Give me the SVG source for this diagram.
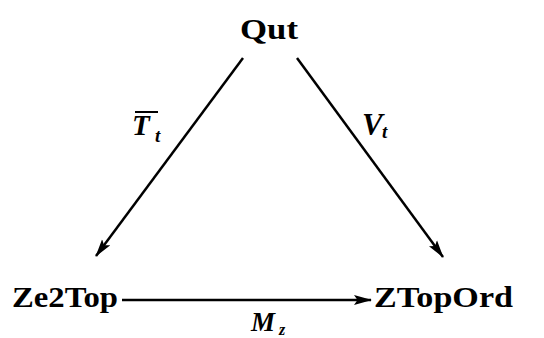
<svg xmlns="http://www.w3.org/2000/svg" width="544" height="338" viewBox="0 0 544 338">
<defs>
<style>
.node{font-family:"Liberation Serif","DejaVu Serif",serif;font-weight:bold;font-size:30px;fill:#000}
.lbl{font-family:"Liberation Serif","DejaVu Serif",serif;font-style:italic;font-weight:bold;fill:#000}
.edge{stroke:#000;stroke-width:2.5;fill:none}
</style>
<marker id="ah" viewBox="0 0 18 11" refX="17" refY="5.5" markerWidth="18" markerHeight="11" markerUnits="userSpaceOnUse" orient="auto">
<path d="M0,0.5 L18,5.5 L0,10.5 L3.5,5.5 Z" fill="#000"/>
</marker>
</defs>
<rect width="544" height="338" fill="#fff"/>
<g id="Qut"><text class="node" x="269" y="39" text-anchor="middle" textLength="58" lengthAdjust="spacingAndGlyphs">Qut</text></g>
<g id="Ze2Top"><text class="node" x="12" y="307" textLength="106" lengthAdjust="spacingAndGlyphs">Ze2Top</text></g>
<g id="ZTopOrd"><text class="node" x="374" y="307" textLength="139" lengthAdjust="spacingAndGlyphs">ZTopOrd</text></g>
<g id="connectors">
<line class="edge" x1="243" y1="58" x2="96" y2="256" marker-end="url(#ah)"/>
<line class="edge" x1="297" y1="58" x2="443" y2="257" marker-end="url(#ah)"/>
<line class="edge" x1="122" y1="300" x2="371" y2="300" marker-end="url(#ah)"/>
<g id="label-T">
<line x1="135" y1="112" x2="158" y2="112" stroke="#000" stroke-width="2"/>
<text class="lbl" x="132" y="135" font-size="29">T</text>
<text class="lbl" x="155" y="142" font-size="19">t</text>
</g>
<g id="label-V">
<text class="lbl" x="362" y="135" font-size="31">V</text>
<text class="lbl" x="382" y="138" font-size="19">t</text>
</g>
<g id="label-M">
<text class="lbl" x="251" y="331" font-size="27">M</text>
<text class="lbl" x="279" y="335" font-size="16">z</text>
</g>
</g>
</svg>
